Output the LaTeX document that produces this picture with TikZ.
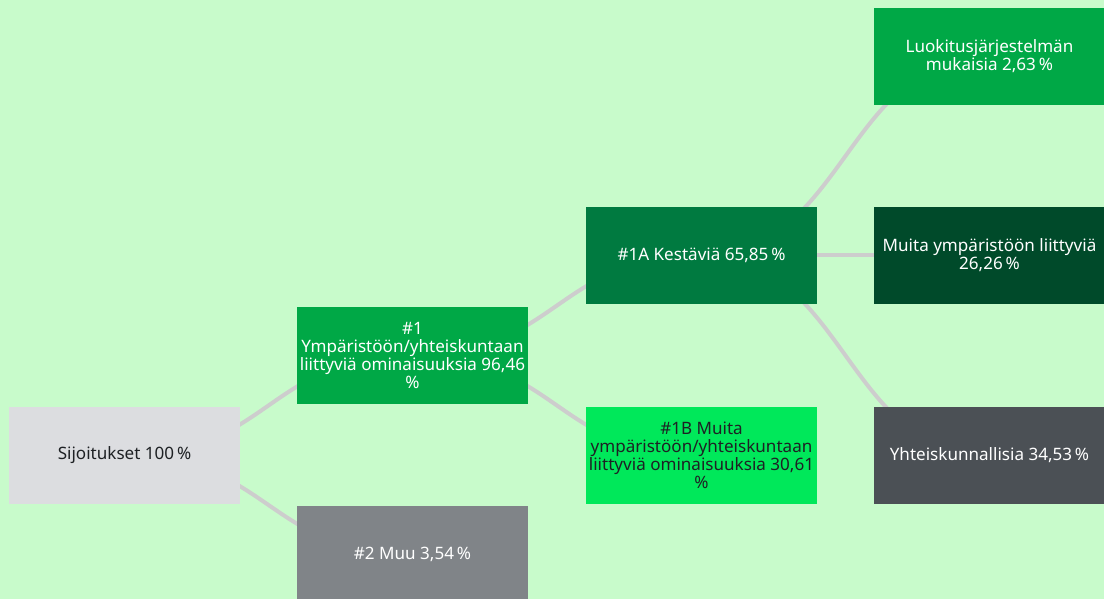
\documentclass[tikz,border=0pt]{standalone}
\usepackage{fontspec}
\setmainfont{Noto Sans}
\definecolor{bg}{HTML}{C8FBCB}
\definecolor{link}{HTML}{CDCDCD}
\definecolor{cA}{HTML}{DCDDE0}
\definecolor{cOne}{HTML}{00A846}
\definecolor{cTwo}{HTML}{808488}
\definecolor{cOneA}{HTML}{007A40}
\definecolor{cOneB}{HTML}{00E85A}
\definecolor{cL}{HTML}{00A846}
\definecolor{cM}{HTML}{004A2A}
\definecolor{cY}{HTML}{4B5055}
\definecolor{txtdark}{HTML}{1E2124}
\tikzset{
  box/.style={rectangle, inner sep=0pt, minimum width=173.25pt, minimum height=72.75pt,
    align=center, font=\fontsize{12.8}{13.6}\selectfont},
  lightbox/.style={box, text=txtdark},
  darkbox/.style={box, text=white},
  linkline/.style={draw=link, line width=3pt},
}
\begin{document}
\begin{tikzpicture}[x=0.75pt,y=-0.75pt]
\fill[bg] (0,0) rectangle (1104,599);
\useasboundingbox (0,0) rectangle (1104,599);
\clip (0,0) rectangle (1104,599);
% node positions
\coordinate (pA) at (124.5,455.5);
\coordinate (p1) at (412.5,355.5);
\coordinate (p2) at (412.5,554.5);
\coordinate (p1A) at (701.5,255.5);
\coordinate (p1B) at (701.5,455.5);
\coordinate (pL) at (989.5,56.5);
\coordinate (pM) at (989.5,255.5);
\coordinate (pY) at (989.5,455.5);
% links (behind nodes)
\draw[linkline] (pA) .. controls (268.5,455.5) and (268.5,355.5) .. (p1);
\draw[linkline] (pA) .. controls (268.5,455.5) and (268.5,554.5) .. (p2);
\draw[linkline] (p1) .. controls (557,355.5) and (557,255.5) .. (p1A);
\draw[linkline] (p1) .. controls (557,355.5) and (557,455.5) .. (p1B);
\draw[linkline] (p1A) .. controls (845.5,255.5) and (845.5,56.5) .. (pL);
\draw[linkline] (p1A) -- (pM);
\draw[linkline] (p1A) .. controls (845.5,255.5) and (845.5,455.5) .. (pY);
% nodes
\node[lightbox, fill=cA] (A) at (pA) {Sijoitukset 100\,\%};
\node[darkbox, fill=cOne] (n1) at (p1) {\#1\\Ympäristöön/yhteiskuntaan\\liittyviä ominaisuuksia 96,46\\\%};
\node[darkbox, fill=cTwo] (n2) at (p2) {\#2 Muu 3,54\,\%};
\node[darkbox, fill=cOneA] (n1A) at (p1A) {\#1A Kestäviä 65,85\,\%};
\node[lightbox, fill=cOneB] (n1B) at (p1B) {\#1B Muita\\ympäristöön/yhteiskuntaan\\liittyviä ominaisuuksia 30,61\\\%};
\node[darkbox, fill=cL] (L) at (pL) {Luokitusjärjestelmän\\mukaisia 2,63\,\%};
\node[darkbox, fill=cM] (M) at (pM) {Muita ympäristöön liittyviä\\26,26\,\%};
\node[darkbox, fill=cY] (Y) at (pY) {Yhteiskunnallisia 34,53\,\%};
\end{tikzpicture}
\end{document}
